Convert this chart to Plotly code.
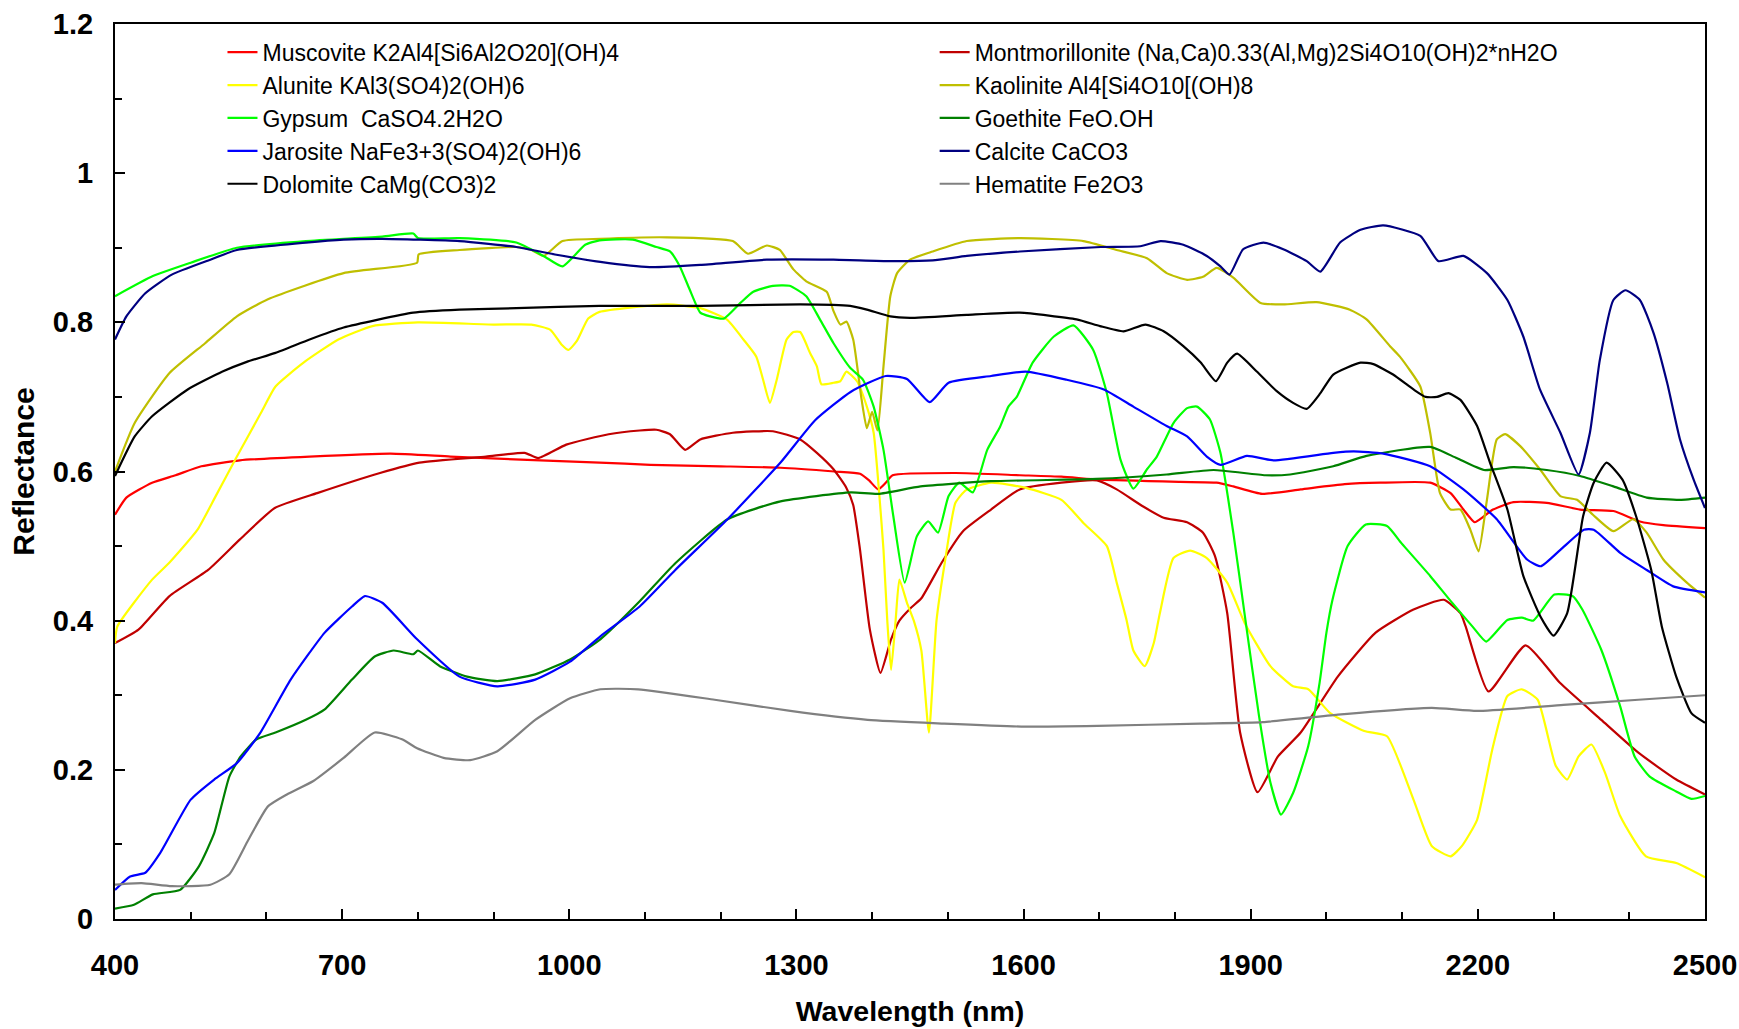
import plotly.graph_objects as go

# ---- data (wavelength nm, reflectance) ----
muscovite_wl = [400, 415, 449, 480, 514, 565, 657, 764, 843, 936, 1040, 1107, 1200, 1279, 1350, 1384, 1396, 1408, 1418, 1427, 1510, 1595, 1650, 1701, 1807, 1855, 1877, 1915, 1966, 2024, 2071, 2137, 2164, 2181, 2196, 2220, 2247, 2291, 2335, 2379, 2414, 2445, 2500]
muscovite_r = [0.542, 0.565, 0.585, 0.595, 0.607, 0.615, 0.620, 0.624, 0.620, 0.616, 0.612, 0.609, 0.607, 0.605, 0.600, 0.597, 0.588, 0.576, 0.585, 0.595, 0.598, 0.595, 0.593, 0.589, 0.586, 0.585, 0.580, 0.570, 0.576, 0.583, 0.585, 0.585, 0.571, 0.549, 0.532, 0.549, 0.559, 0.558, 0.549, 0.547, 0.533, 0.528, 0.524]

montmorillonite_wl = [400, 431, 472, 523, 565, 611, 667, 750, 802, 890, 941, 959, 996, 1052, 1093, 1115, 1133, 1153, 1173, 1216, 1269, 1305, 1327, 1349, 1366, 1375, 1384, 1397, 1411, 1425, 1436, 1451, 1465, 1492, 1520, 1557, 1595, 1650, 1697, 1723, 1758, 1785, 1816, 1837, 1853, 1869, 1886, 1909, 1936, 1966, 2015, 2065, 2115, 2155, 2177, 2184, 2214, 2263, 2308, 2363, 2412, 2462, 2500]
montmorillonite_r = [0.370, 0.388, 0.433, 0.468, 0.509, 0.551, 0.571, 0.598, 0.612, 0.620, 0.625, 0.618, 0.636, 0.650, 0.655, 0.656, 0.650, 0.629, 0.643, 0.652, 0.654, 0.643, 0.625, 0.603, 0.578, 0.555, 0.495, 0.388, 0.330, 0.375, 0.400, 0.417, 0.430, 0.478, 0.520, 0.549, 0.576, 0.585, 0.588, 0.576, 0.553, 0.538, 0.532, 0.518, 0.486, 0.410, 0.250, 0.170, 0.218, 0.250, 0.325, 0.384, 0.415, 0.428, 0.410, 0.392, 0.305, 0.367, 0.317, 0.267, 0.223, 0.187, 0.167]

alunite_wl = [400, 403, 449, 472, 509, 533, 561, 593, 612, 649, 695, 740, 800, 900, 950, 975, 990, 999, 1010, 1025, 1040, 1129, 1173, 1208, 1230, 1247, 1256, 1265, 1274, 1287, 1296, 1305, 1318, 1327, 1333, 1349, 1358, 1366, 1380, 1393, 1402, 1410, 1415, 1420, 1425, 1431, 1436, 1446, 1455, 1465, 1475, 1485, 1496, 1510, 1524, 1557, 1603, 1650, 1679, 1710, 1723, 1736, 1745, 1760, 1772, 1780, 1798, 1820, 1842, 1869, 1892, 1926, 1956, 1976, 2005, 2050, 2080, 2115, 2139, 2164, 2179, 2199, 2219, 2239, 2258, 2279, 2303, 2318, 2333, 2350, 2368, 2388, 2422, 2462, 2500]
alunite_r = [0.370, 0.392, 0.455, 0.478, 0.522, 0.567, 0.620, 0.679, 0.714, 0.746, 0.777, 0.795, 0.800, 0.797, 0.797, 0.790, 0.770, 0.763, 0.775, 0.805, 0.814, 0.824, 0.819, 0.804, 0.777, 0.754, 0.723, 0.692, 0.723, 0.777, 0.787, 0.787, 0.759, 0.741, 0.717, 0.719, 0.721, 0.734, 0.721, 0.687, 0.652, 0.562, 0.495, 0.400, 0.334, 0.400, 0.455, 0.424, 0.400, 0.360, 0.250, 0.400, 0.478, 0.558, 0.575, 0.585, 0.578, 0.562, 0.531, 0.500, 0.451, 0.401, 0.360, 0.339, 0.370, 0.410, 0.484, 0.494, 0.484, 0.451, 0.397, 0.339, 0.312, 0.308, 0.276, 0.252, 0.245, 0.160, 0.098, 0.084, 0.098, 0.133, 0.227, 0.299, 0.308, 0.294, 0.205, 0.187, 0.218, 0.234, 0.196, 0.138, 0.084, 0.075, 0.056]

kaolinite_wl = [400, 426, 472, 519, 561, 602, 702, 799, 801, 855, 930, 950, 966, 991, 1041, 1129, 1216, 1236, 1261, 1278, 1296, 1313, 1340, 1349, 1358, 1366, 1375, 1386, 1393, 1400, 1407, 1415, 1424, 1433, 1450, 1480, 1525, 1595, 1679, 1723, 1763, 1789, 1816, 1837, 1855, 1877, 1913, 1943, 1987, 2031, 2053, 2084, 2097, 2124, 2137, 2150, 2164, 2177, 2190, 2201, 2212, 2225, 2236, 2256, 2282, 2309, 2331, 2352, 2379, 2405, 2423, 2445, 2476, 2500]
kaolinite_r = [0.600, 0.665, 0.732, 0.772, 0.808, 0.831, 0.866, 0.880, 0.891, 0.897, 0.901, 0.897, 0.889, 0.909, 0.912, 0.914, 0.909, 0.892, 0.903, 0.897, 0.871, 0.855, 0.841, 0.815, 0.797, 0.801, 0.777, 0.697, 0.658, 0.680, 0.655, 0.741, 0.835, 0.866, 0.884, 0.895, 0.909, 0.913, 0.909, 0.897, 0.886, 0.866, 0.857, 0.861, 0.873, 0.860, 0.826, 0.824, 0.827, 0.817, 0.804, 0.768, 0.754, 0.714, 0.652, 0.571, 0.549, 0.549, 0.522, 0.493, 0.562, 0.643, 0.650, 0.634, 0.603, 0.567, 0.562, 0.542, 0.520, 0.536, 0.518, 0.482, 0.451, 0.431]

gypsum_wl = [400, 450, 500, 561, 652, 753, 794, 800, 855, 930, 966, 991, 1021, 1040, 1084, 1115, 1133, 1146, 1159, 1173, 1186, 1204, 1226, 1243, 1269, 1291, 1313, 1331, 1349, 1371, 1388, 1402, 1415, 1428, 1443, 1459, 1474, 1487, 1501, 1515, 1533, 1552, 1569, 1580, 1591, 1612, 1640, 1666, 1692, 1710, 1728, 1745, 1763, 1776, 1798, 1816, 1829, 1846, 1860, 1877, 1893, 1911, 1926, 1940, 1956, 1976, 1991, 2000, 2008, 2028, 2052, 2080, 2099, 2137, 2166, 2193, 2211, 2239, 2258, 2273, 2301, 2325, 2338, 2363, 2388, 2407, 2427, 2462, 2482, 2500]
gypsum_r = [0.835, 0.862, 0.880, 0.900, 0.909, 0.915, 0.919, 0.913, 0.913, 0.907, 0.889, 0.875, 0.904, 0.910, 0.911, 0.901, 0.895, 0.875, 0.844, 0.813, 0.808, 0.805, 0.826, 0.841, 0.849, 0.849, 0.835, 0.804, 0.772, 0.739, 0.723, 0.687, 0.629, 0.540, 0.451, 0.513, 0.533, 0.518, 0.567, 0.585, 0.572, 0.629, 0.660, 0.687, 0.700, 0.746, 0.781, 0.796, 0.763, 0.705, 0.616, 0.577, 0.603, 0.620, 0.665, 0.685, 0.687, 0.670, 0.625, 0.518, 0.401, 0.272, 0.183, 0.140, 0.169, 0.232, 0.317, 0.384, 0.428, 0.500, 0.529, 0.527, 0.504, 0.460, 0.424, 0.392, 0.372, 0.401, 0.404, 0.400, 0.435, 0.433, 0.415, 0.361, 0.285, 0.218, 0.191, 0.171, 0.161, 0.165]

goethite_wl = [400, 425, 450, 486, 511, 531, 551, 566, 587, 612, 652, 677, 713, 743, 768, 794, 800, 829, 865, 905, 955, 1001, 1041, 1093, 1140, 1209, 1279, 1372, 1408, 1464, 1557, 1696, 1789, 1851, 1919, 1952, 2009, 2053, 2137, 2172, 2208, 2247, 2291, 2335, 2379, 2423, 2467, 2500]
goethite_r = [0.014, 0.019, 0.033, 0.039, 0.071, 0.115, 0.191, 0.218, 0.241, 0.250, 0.267, 0.281, 0.321, 0.352, 0.360, 0.355, 0.360, 0.339, 0.325, 0.319, 0.328, 0.348, 0.375, 0.426, 0.477, 0.536, 0.560, 0.572, 0.570, 0.580, 0.587, 0.590, 0.596, 0.602, 0.595, 0.596, 0.607, 0.621, 0.633, 0.618, 0.602, 0.606, 0.602, 0.594, 0.580, 0.565, 0.562, 0.565]

jarosite_wl = [400, 420, 440, 460, 500, 531, 561, 592, 632, 677, 713, 730, 753, 799, 855, 905, 955, 1001, 1041, 1093, 1140, 1209, 1279, 1325, 1372, 1418, 1446, 1476, 1501, 1557, 1603, 1657, 1706, 1745, 1789, 1816, 1842, 1860, 1895, 1930, 2009, 2036, 2075, 2137, 2181, 2225, 2265, 2283, 2309, 2340, 2353, 2388, 2423, 2458, 2500]
jarosite_r = [0.039, 0.057, 0.062, 0.089, 0.160, 0.187, 0.209, 0.250, 0.321, 0.384, 0.419, 0.433, 0.424, 0.375, 0.325, 0.312, 0.321, 0.345, 0.379, 0.419, 0.468, 0.536, 0.612, 0.669, 0.707, 0.728, 0.724, 0.693, 0.719, 0.728, 0.734, 0.723, 0.710, 0.687, 0.661, 0.647, 0.620, 0.609, 0.621, 0.615, 0.625, 0.627, 0.624, 0.607, 0.576, 0.536, 0.482, 0.473, 0.495, 0.522, 0.522, 0.491, 0.468, 0.446, 0.438]

calcite_wl = [400, 415, 440, 475, 526, 561, 652, 702, 753, 855, 930, 981, 1041, 1106, 1173, 1261, 1349, 1424, 1480, 1525, 1595, 1702, 1754, 1781, 1811, 1842, 1860, 1872, 1890, 1917, 1943, 1974, 1992, 2018, 2045, 2075, 2124, 2148, 2181, 2212, 2239, 2260, 2282, 2309, 2333, 2348, 2361, 2379, 2395, 2414, 2432, 2450, 2467, 2485, 2500]
calcite_r = [0.777, 0.808, 0.839, 0.864, 0.884, 0.897, 0.907, 0.911, 0.912, 0.909, 0.901, 0.891, 0.881, 0.874, 0.877, 0.884, 0.884, 0.882, 0.883, 0.889, 0.895, 0.901, 0.902, 0.909, 0.904, 0.889, 0.875, 0.864, 0.898, 0.907, 0.898, 0.882, 0.868, 0.907, 0.924, 0.930, 0.916, 0.882, 0.889, 0.866, 0.830, 0.781, 0.710, 0.652, 0.596, 0.652, 0.749, 0.830, 0.843, 0.830, 0.786, 0.719, 0.643, 0.589, 0.551]

dolomite_wl = [400, 426, 449, 496, 542, 574, 612, 657, 702, 794, 855, 930, 1040, 1173, 1305, 1371, 1393, 1424, 1450, 1525, 1595, 1670, 1701, 1732, 1761, 1785, 1811, 1834, 1854, 1869, 1882, 1908, 1934, 1956, 1974, 1992, 2009, 2045, 2062, 2088, 2115, 2131, 2146, 2161, 2177, 2199, 2216, 2239, 2260, 2283, 2300, 2318, 2339, 2353, 2370, 2391, 2409, 2429, 2443, 2462, 2482, 2500]
dolomite_r = [0.594, 0.647, 0.674, 0.710, 0.734, 0.747, 0.759, 0.777, 0.793, 0.813, 0.817, 0.819, 0.822, 0.822, 0.824, 0.822, 0.817, 0.808, 0.806, 0.810, 0.813, 0.804, 0.795, 0.788, 0.797, 0.788, 0.768, 0.746, 0.721, 0.746, 0.758, 0.734, 0.708, 0.692, 0.684, 0.705, 0.730, 0.746, 0.744, 0.730, 0.710, 0.700, 0.700, 0.705, 0.696, 0.661, 0.612, 0.549, 0.460, 0.405, 0.380, 0.410, 0.540, 0.585, 0.612, 0.589, 0.540, 0.468, 0.392, 0.325, 0.276, 0.263]

hematite_wl = [400, 435, 475, 526, 551, 576, 602, 627, 662, 702, 743, 779, 799, 834, 869, 905, 955, 1001, 1041, 1091, 1192, 1292, 1394, 1495, 1597, 1698, 1833, 1916, 2015, 2139, 2199, 2313, 2412, 2500]
hematite_r = [0.046, 0.048, 0.044, 0.046, 0.060, 0.106, 0.151, 0.167, 0.185, 0.216, 0.250, 0.241, 0.229, 0.216, 0.213, 0.225, 0.267, 0.296, 0.308, 0.308, 0.294, 0.279, 0.267, 0.262, 0.258, 0.259, 0.262, 0.264, 0.274, 0.283, 0.279, 0.287, 0.294, 0.300]

series = [
    ("Muscovite K2Al4[Si6Al2O20](OH)4", muscovite_wl, muscovite_r, "#FF0000", "legend"),
    ("Montmorillonite (Na,Ca)0.33(Al,Mg)2Si4O10(OH)2*nH2O", montmorillonite_wl, montmorillonite_r, "#C00000", "legend2"),
    ("Alunite KAl3(SO4)2(OH)6", alunite_wl, alunite_r, "#FFFF00", "legend"),
    ("Kaolinite Al4[Si4O10[(OH)8", kaolinite_wl, kaolinite_r, "#BFBF00", "legend2"),
    ("Gypsum  CaSO4.2H2O", gypsum_wl, gypsum_r, "#00FF00", "legend"),
    ("Goethite FeO.OH", goethite_wl, goethite_r, "#008000", "legend2"),
    ("Jarosite NaFe3+3(SO4)2(OH)6", jarosite_wl, jarosite_r, "#0000FF", "legend"),
    ("Calcite CaCO3", calcite_wl, calcite_r, "#000080", "legend2"),
    ("Dolomite CaMg(CO3)2", dolomite_wl, dolomite_r, "#000000", "legend"),
    ("Hematite Fe2O3", hematite_wl, hematite_r, "#808080", "legend2"),
]

x_ticks = [400, 700, 1000, 1300, 1600, 1900, 2200, 2500]
y_ticks = [0, 0.2, 0.4, 0.6, 0.8, 1.0, 1.2]
y_labels = ["0", "0.2", "0.4", "0.6", "0.8", "1", "1.2"]

FONT = "Liberation Sans, Arial, sans-serif"

fig = go.Figure()
for name, wl, r, color, leg in series:
    fig.add_trace(go.Scatter(
        x=wl, y=r, mode="lines", name=name, legend=leg,
        line=dict(color=color, width=2.2, shape="spline", smoothing=0.5),
    ))

fig.update_layout(
    width=1739, height=1029,
    margin=dict(l=115, r=34, t=24, b=110),
    paper_bgcolor="white", plot_bgcolor="white",
    font=dict(family=FONT, color="black"),
    legend=dict(x=0.0676, y=0.9925, xanchor="left", yanchor="top",
                font=dict(family=FONT, size=23, color="black"),
                bgcolor="rgba(0,0,0,0)", borderwidth=0, tracegroupgap=0),
    legend2=dict(x=0.5155, y=0.9925, xanchor="left", yanchor="top",
                 font=dict(family=FONT, size=23, color="black"),
                 bgcolor="rgba(0,0,0,0)", borderwidth=0, tracegroupgap=0),
)

fig.update_xaxes(
    range=[400, 2500], tickvals=x_ticks, ticktext=[str(v) for v in x_ticks],
    ticks="inside", ticklen=10, tickwidth=1.5, tickcolor="black",
    minor=dict(dtick=100, tick0=400, ticks="inside", ticklen=7, tickwidth=1.5, tickcolor="black"),
    showline=True, linecolor="black", linewidth=2, mirror=True,
    showgrid=False, zeroline=False, automargin=False,
    tickfont=dict(family=FONT, size=29, color="black", weight="bold"),
    ticklabelstandoff=19,
    title=dict(text="<b>Wavelength (nm)</b>", font=dict(family=FONT, size=28.5, color="black"), standoff=21),
)
fig.update_yaxes(
    range=[0, 1.2], tickvals=y_ticks, ticktext=y_labels,
    ticks="inside", ticklen=10, tickwidth=1.5, tickcolor="black",
    minor=dict(dtick=0.1, tick0=0, ticks="inside", ticklen=7, tickwidth=1.5, tickcolor="black"),
    showline=True, linecolor="black", linewidth=2, mirror=True,
    showgrid=False, zeroline=False, automargin=False,
    tickfont=dict(family=FONT, size=29, color="black", weight="bold"),
    ticklabelstandoff=14,
    title=dict(text="<b>Reflectance</b>", font=dict(family=FONT, size=30, color="black"), standoff=9),
)

fig.write_html("out.html")
